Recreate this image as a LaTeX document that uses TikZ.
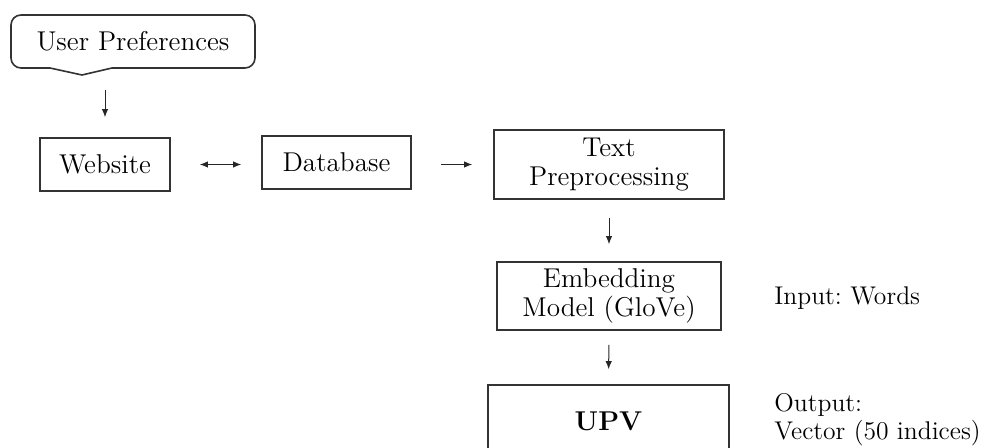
\documentclass[tikz,border=0pt]{standalone}
\usetikzlibrary{arrows.meta}
\begin{document}
\begin{tikzpicture}[x=0.5pt,y=-0.5pt,
  every node/.style={font=\fontsize{13.6}{14.8}\selectfont, text=black},
  box/.style={draw=black!80, line width=0.8pt, rectangle, align=center, inner sep=0pt},
  arr/.style={draw=black!85, line width=0.5pt, -{Latex[length=4pt,width=3.2pt]}},
  darr/.style={draw=black!85, line width=0.5pt, {Latex[length=4pt,width=3.2pt]}-{Latex[length=4pt,width=3.2pt]}},
  plain/.style={inner sep=0pt, align=left, anchor=west, font=\fontsize{12.8}{14}\selectfont\frenchspacing}]
\useasboundingbox (0,0) rectangle (988,448);
% callout
\node[inner sep=0pt, minimum width=122pt, minimum height=26.5pt] (pref) at (133,41.5) {User Preferences};
\coordinate (tip) at (82,75);
\draw[black!80, line width=0.8pt] (tip) -- (112,68) {[rounded corners=5pt] -- (255,68) -- (255,15) -- (11,15) -- (11,68)} -- (50,68) -- cycle;
% boxes
\node[box, minimum width=65pt, minimum height=26.5pt] (web) at (105,164.5) {Website};
\node[box, minimum width=74.5pt, minimum height=26.5pt] (db) at (336.5,162.5) {Database};
\node[box, minimum width=115pt, minimum height=34.5pt] (tp) at (609,164.5) {Text\\Preprocessing};
\node[box, minimum width=112pt, minimum height=34pt] (emb) at (609,296) {Embedding\\Model (GloVe)};
\node[box, minimum width=120.5pt, minimum height=36pt, font=\fontsize{13.6}{14.8}\selectfont\bfseries] (upv) at (608.5,421) {UPV};
% side texts
\node[plain] (inp) at (774,298) {Input: Words};
\node[plain] (outp) at (774,420) {Output:\\Vector (50 indices)};
% connectors
\draw[arr, shorten <=11pt, shorten >=10pt] (web.north |- pref.south) -- (web.north);
\draw[darr, shorten <=14.5pt, shorten >=10pt] (web.east) -- (web.east -| db.west);
\draw[arr, shorten <=14.5pt, shorten >=10.5pt] (db.east |- tp.west) -- (tp.west);
\draw[arr, shorten <=9pt, shorten >=8.5pt] (tp.south) -- (emb.north);
\draw[arr, shorten <=7pt, shorten >=7.5pt] (emb.south) -- (upv.north);
\end{tikzpicture}
\end{document}
